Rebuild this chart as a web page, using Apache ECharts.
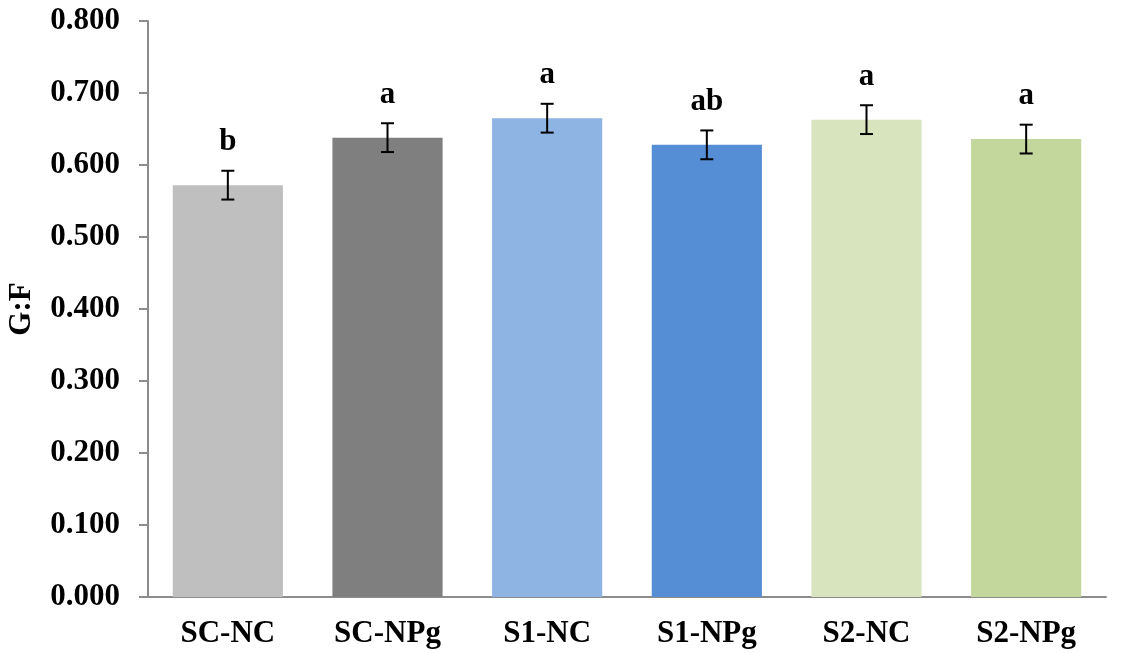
<!DOCTYPE html>
<html><head><meta charset="utf-8">
<script src="https://cdn.jsdelivr.net/npm/echarts@6/dist/echarts.min.js"></script>
<style>html,body{margin:0;padding:0;background:#fff}#c{width:1138px;height:653px}</style>
</head><body><div id="c"></div>
<script>
const categories = ['SC-NC','SC-NPg','S1-NC','S1-NPg','S2-NC','S2-NPg'];
const means = [0.572, 0.638, 0.665, 0.628, 0.663, 0.636];
const errors = [0.020, 0.020, 0.020, 0.020, 0.020, 0.020];
const letters = ['b','a','a','ab','a','a'];
const colors = ['#BFBFBF','#7F7F7F','#8EB4E3','#558ED5','#D7E4BD','#C3D69B'];
const yTicks = {min:0, max:0.8, interval:0.1};

const FONT = '"Liberation Serif", "Times New Roman", serif';
const chart = echarts.init(document.getElementById('c'), null, {renderer:'canvas'});
chart.setOption({
  animation:false,
  grid:{left:148, right:32, top:21, bottom:56, containLabel:false, outerBoundsMode:'none'},
  xAxis:{type:'category', data:categories,
    axisLine:{lineStyle:{color:'#8C8C8C', width:2}},
    axisTick:{length:9, lineStyle:{color:'#8C8C8C', width:2}},
    axisLabel:{color:'#000', fontFamily:FONT, fontWeight:'bold', fontSize:31, margin:21}},
  yAxis:{type:'value', min:yTicks.min, max:yTicks.max, interval:yTicks.interval,
    name:'G:F', nameLocation:'middle', nameGap:111, nameRotate:90,
    nameTextStyle:{color:'#000', fontFamily:FONT, fontWeight:'bold', fontSize:31},
    splitLine:{show:false},
    axisLine:{show:true, lineStyle:{color:'#8C8C8C', width:2}},
    axisTick:{show:true, length:9, lineStyle:{color:'#8C8C8C', width:2}},
    axisLabel:{color:'#000', fontFamily:FONT, fontWeight:'bold', fontSize:31, margin:28,
      formatter:v=>v.toFixed(3)}},
  series:[
    {type:'bar', data:means.map((v,i)=>({value:v, itemStyle:{color:colors[i]}})), barCategoryGap:'31%'},
    {type:'custom', data:means.map((v,i)=>[i, v, errors[i]]), z:10,
      renderItem:(params, api)=>{
        const i = api.value(0), m = api.value(1), e = api.value(2);
        const top = api.coord([i, m+e]), bot = api.coord([i, m-e]);
        const x = top[0], hw = 6.5;
        const st = {stroke:'#000', lineWidth:2};
        return {type:'group', children:[
          {type:'line', shape:{x1:x, y1:top[1], x2:x, y2:bot[1]}, style:st},
          {type:'line', shape:{x1:x-hw, y1:top[1], x2:x+hw, y2:top[1]}, style:st},
          {type:'line', shape:{x1:x-hw, y1:bot[1], x2:x+hw, y2:bot[1]}, style:st},
          {type:'text', x:x, y:top[1]-13, style:{text:letters[params.dataIndex], fill:'#000',
            font:'bold 31px '+FONT, textAlign:'center', textVerticalAlign:'bottom'}}
        ]};
      }}
  ]
});
</script></body></html>
